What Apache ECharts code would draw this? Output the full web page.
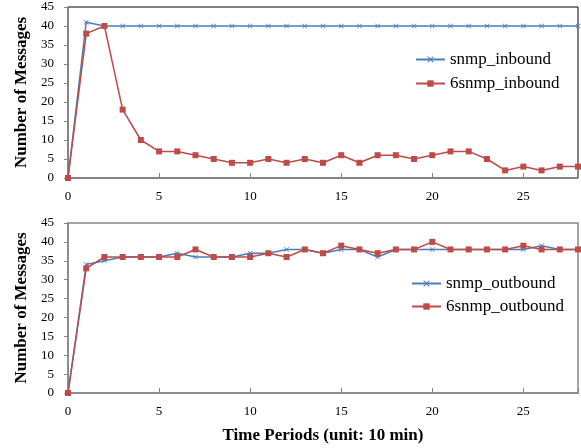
<!DOCTYPE html>
<html>
<head>
<meta charset="utf-8">
<script src="https://cdn.jsdelivr.net/npm/echarts@6/dist/echarts.min.js"></script>
<style>
  html, body { margin: 0; padding: 0; background: #fff; }
  #chart { width: 581px; height: 448px; }
</style>
</head>
<body>
<div id="chart"></div>
<script>
// time periods 0..28 (unit: 10 min)
var periods = [0,1,2,3,4,5,6,7,8,9,10,11,12,13,14,15,16,17,18,19,20,21,22,23,24,25,26,27,28];

var snmpInbound   = [0,41,40,40,40,40,40,40,40,40,40,40,40,40,40,40,40,40,40,40,40,40,40,40,40,40,40,40,40];
var snmp6Inbound  = [0,38,40,18,10,7,7,6,5,4,4,5,4,5,4,6,4,6,6,5,6,7,7,5,2,3,2,3,3];
var snmpOutbound  = [0,34,35,36,36,36,37,36,36,36,37,37,38,38,37,38,38,36,38,38,38,38,38,38,38,38,39,38,38];
var snmp6Outbound = [0,33,36,36,36,36,36,38,36,36,36,37,36,38,37,39,38,37,38,38,40,38,38,38,38,39,38,38,38];

var xTicks = [0,5,10,15,20,25];

var FONT = "Liberation Serif";
var BLUE = "#4A7EBB";
var RED = "#BE4B48";
var AXIS = "#868686";
var xMark = "path://M0,1L1,0L5,4L9,0L10,1L6,5L10,9L9,10L5,6L1,10L0,9L4,5Z";

function pairs(vals) {
  return periods.map(function (p, i) { return [p, vals[i]]; });
}

function xAxisFor(idx, withName) {
  return {
    type: "value", gridIndex: idx, min: 0, max: 28, interval: 5,
    splitLine: { show: false },
    axisLine: { lineStyle: { color: AXIS, width: 1.5 } },
    axisTick: { inside: true, length: 5, lineStyle: { color: AXIS } },
    axisLabel: {
      margin: 12, color: "#000", fontFamily: FONT, fontSize: 13,
      formatter: function (v) { return xTicks.indexOf(v) >= 0 ? String(v) : ""; }
    },
    name: withName ? "Time Periods (unit: 10 min)" : "",
    nameLocation: "middle", nameGap: 34,
    nameTextStyle: { color: "#000", fontFamily: FONT, fontSize: 17, fontWeight: "bold" }
  };
}

function yAxisFor(idx) {
  return {
    type: "value", gridIndex: idx, min: 0, max: 45, interval: 5,
    splitLine: { show: false },
    axisLine: { lineStyle: { color: AXIS, width: 1.5 } },
    axisTick: { length: 4, lineStyle: { color: AXIS } },
    axisLabel: { margin: 14, color: "#000", fontFamily: FONT, fontSize: 13 },
    name: "Number of Messages", nameLocation: "middle", nameGap: 37,
    nameTextStyle: { color: "#000", fontFamily: FONT, fontSize: 17, fontWeight: "bold" }
  };
}

function lineSeries(name, idx, vals, color, symbol, size) {
  return {
    name: name, type: "line", xAxisIndex: idx, yAxisIndex: idx,
    data: pairs(vals), symbol: symbol, symbolSize: size, showSymbol: true,
    lineStyle: { color: color, width: 1.5 },
    itemStyle: { color: color },
    emphasis: { disabled: true }
  };
}

var legendText = { color: "#000", fontFamily: FONT, fontSize: 17 };

var chart = echarts.init(document.getElementById("chart"));
chart.setOption({
  animation: false,
  backgroundColor: "#fff",
  grid: [
    { left: 68, right: 2, top: 7, bottom: 270, show: true, borderColor: "#000", borderWidth: 1 },
    { left: 68, right: 2, top: 223, bottom: 55, show: true, borderColor: AXIS, borderWidth: 1.5 }
  ],
  xAxis: [xAxisFor(0, false), xAxisFor(1, true)],
  yAxis: [yAxisFor(0), yAxisFor(1)],
  legend: [
    {
      data: ["snmp_inbound", "6snmp_inbound"], orient: "vertical",
      left: 410, top: 46, itemWidth: 29, itemHeight: 8, itemGap: 7,
      textStyle: legendText
    },
    {
      data: ["snmp_outbound", "6snmp_outbound"], orient: "vertical",
      left: 406, top: 270, itemWidth: 29, itemHeight: 8, itemGap: 6,
      textStyle: legendText
    }
  ],
  series: [
    lineSeries("snmp_inbound", 0, snmpInbound, BLUE, xMark, 5),
    lineSeries("6snmp_inbound", 0, snmp6Inbound, RED, "rect", 6),
    lineSeries("snmp_outbound", 1, snmpOutbound, BLUE, xMark, 5),
    lineSeries("6snmp_outbound", 1, snmp6Outbound, RED, "rect", 6)
  ]
});
</script>
</body>
</html>
